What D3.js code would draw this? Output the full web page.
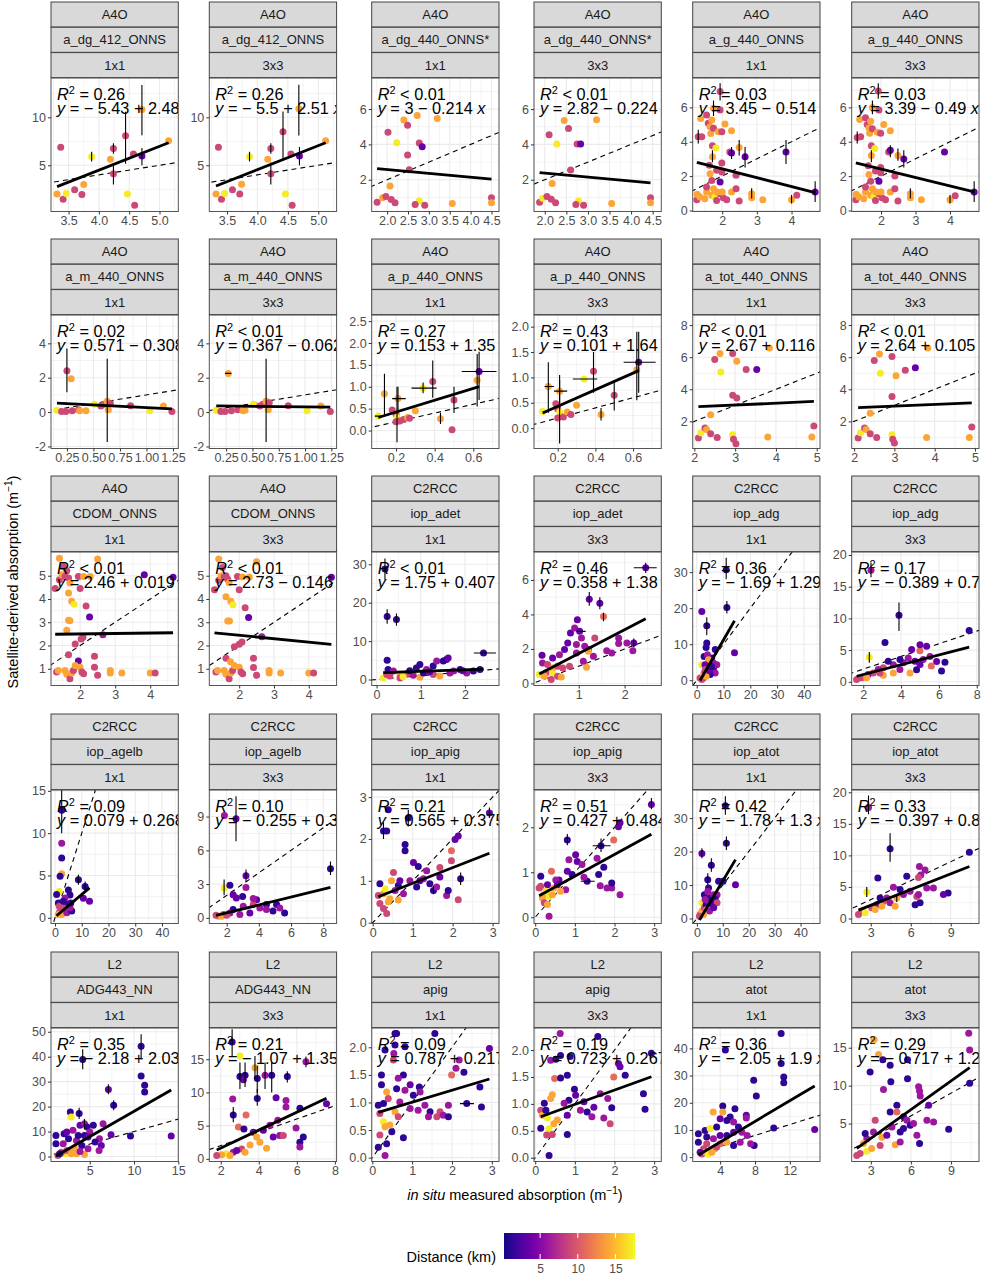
<!DOCTYPE html>
<html>
<head>
<meta charset="utf-8">
<script src="https://cdn.jsdelivr.net/npm/d3@7"></script>
<style>
  body { margin: 0; background: #fff; }
  text { font-family: "Liberation Sans", Arial, Helvetica, sans-serif; }
</style>
</head>
<body>
<script>
// ---- facet labels ----
const sensors = ["A4O","A4O","A4O","A4O","A4O","A4O",
                 "A4O","A4O","A4O","A4O","A4O","A4O",
                 "A4O","A4O","C2RCC","C2RCC","C2RCC","C2RCC",
                 "C2RCC","C2RCC","C2RCC","C2RCC","C2RCC","C2RCC",
                 "L2","L2","L2","L2","L2","L2"];
const products = ["a_dg_412_ONNS","a_dg_412_ONNS","a_dg_440_ONNS*","a_dg_440_ONNS*","a_g_440_ONNS","a_g_440_ONNS",
                  "a_m_440_ONNS","a_m_440_ONNS","a_p_440_ONNS","a_p_440_ONNS","a_tot_440_ONNS","a_tot_440_ONNS",
                  "CDOM_ONNS","CDOM_ONNS","iop_adet","iop_adet","iop_adg","iop_adg",
                  "iop_agelb","iop_agelb","iop_apig","iop_apig","iop_atot","iop_atot",
                  "ADG443_NN","ADG443_NN","apig","apig","atot","atot"];
const windows = ["1x1","3x3"];

// ---- fit statistics ----
const r2Labels = ["= 0.26","= 0.26","< 0.01","< 0.01","= 0.03","= 0.03",
                  "= 0.02","< 0.01","= 0.27","= 0.43","< 0.01","< 0.01",
                  "< 0.01","< 0.01","< 0.01","= 0.46","= 0.36","= 0.17",
                  "= 0.09","= 0.10","= 0.21","= 0.51","= 0.42","= 0.33",
                  "= 0.35","= 0.21","= 0.09","= 0.19","= 0.36","= 0.29"];
const eqLabels = ["− 5.43 + 2.48","− 5.5 + 2.51","3 − 0.214","2.82 − 0.224","3.45 − 0.514","3.39 − 0.49",
                  "0.571 − 0.308","0.367 − 0.062","0.153 + 1.35","0.101 + 1.64","2.67 + 0.116","2.64 + 0.105",
                  "2.46 + 0.019","2.73 − 0.146","1.75 + 0.407","0.358 + 1.38","− 1.69 + 1.29","− 0.389 + 0.77",
                  "0.079 + 0.268","− 0.255 + 0.35","0.565 + 0.375","0.427 + 0.484","− 1.78 + 1.3","− 0.397 + 0.83",
                  "− 2.18 + 2.03","− 1.07 + 1.35","0.787 + 0.217","0.723 + 0.267","− 2.05 + 1.9","− 0.717 + 1.26"];
const intercepts = [-5.43,-5.5,3,2.82,3.45,3.39, 0.571,0.367,0.153,0.101,2.67,2.64,
                    2.46,2.73,1.75,0.358,-1.69,-0.389, 0.079,-0.255,0.565,0.427,-1.78,-0.397,
                    -2.18,-1.07,0.787,0.723,-2.05,-0.717];
const slopes = [2.48,2.51,-0.214,-0.224,-0.514,-0.49, -0.308,-0.062,1.35,1.64,0.116,0.105,
                0.019,-0.146,0.407,1.38,1.29,0.77, 0.268,0.35,0.375,0.484,1.3,0.83,
                2.03,1.35,0.217,0.267,1.9,1.26];

// ---- axis ranges and tick labels ----
const xDomains = [[3.21,5.31],[3.21,5.30],[1.63,4.68],[1.75,4.70],[1.15,4.82],[1.15,4.84],
                  [0.10,1.30],[0.09,1.30],[0.074,0.733],[0.074,0.75],[1.96,5.08],[1.94,5.10],
                  [1.17,4.80],[1.14,4.80],[-0.11,2.77],[0.025,2.80],[-1.5,46],[1.39,8.12],
                  [-1.5,46.1],[0.92,8.83],[-0.025,3.16],[-0.03,3.18],[-1.6,47.5],[1.57,11.12],
                  [0.62,15.0],[1.4,8.09],[-0.015,3.18],[-0.03,3.18],[0.85,15.46],[1.57,11.1]];
const yDomains = [[0.18,14.1],[0.18,14.1],[0.2,7.76],[0.2,7.76],[-0.06,7.71],[-0.06,7.71],
                  [-2.12,5.65],[-2.12,5.65],[-0.41,2.64],[-0.40,2.23],[0.31,8.63],[0.31,8.63],
                  [0.28,6.02],[0.28,6.02],[-1.55,33.2],[-0.12,7.62],[-1.47,35.6],[-0.58,20.47],
                  [-0.67,15.1],[-0.5,11.36],[-0.02,3.17],[-0.14,2.83],[-1.5,38.4],[-0.79,20.36],
                  [-2,51.5],[-0.4,19.7],[-0.07,2.35],[-0.07,2.41],[-1.6,47.5],[0.0,17.6]];
const xTicks = [["3.5","4.0","4.5","5.0"],["3.5","4.0","4.5","5.0"],
                ["2.0","2.5","3.0","3.5","4.0","4.5"],["2.0","2.5","3.0","3.5","4.0","4.5"],
                ["2","3","4"],["2","3","4"],
                ["0.25","0.50","0.75","1.00","1.25"],["0.25","0.50","0.75","1.00","1.25"],
                ["0.2","0.4","0.6"],["0.2","0.4","0.6"],["2","3","4","5"],["2","3","4","5"],
                ["2","3","4"],["2","3","4"],["0","1","2"],["1","2"],
                ["0","10","20","30","40"],["2","4","6","8"],
                ["0","10","20","30","40"],["2","4","6","8"],["0","1","2","3"],["0","1","2","3"],
                ["0","10","20","30","40"],["3","6","9"],
                ["5","10","15"],["2","4","6","8"],["0","1","2","3"],["0","1","2","3"],
                ["4","8","12"],["3","6","9"]];
const yTicks = [["5","10"],["5","10"],["2","4","6"],["2","4","6"],["0","2","4","6"],["0","2","4","6"],
                ["-2","0","2","4"],["-2","0","2","4"],["0.0","0.5","1.0","1.5","2.0","2.5"],["0.0","0.5","1.0","1.5","2.0"],
                ["2","4","6","8"],["2","4","6","8"],
                ["1","2","3","4","5"],["1","2","3","4","5"],["0","10","20","30"],["0","2","4","6"],
                ["0","10","20","30"],["0","5","10","15","20"],
                ["0","5","10","15"],["0","3","6","9"],["0","1","2","3"],["0","1","2"],
                ["0","10","20","30"],["0","5","10","15","20"],
                ["0","10","20","30","40","50"],["0","5","10","15"],["0.0","0.5","1.0","1.5","2.0"],
                ["0.0","0.5","1.0","1.5","2.0"],["0","10","20","30","40"],["5","10","15"]];

// ---- colour bar range (km) ----
const distanceExtent = [0.2, 17.6];
const distanceTicks = [5, 10, 15];

// ---- observations: [in situ, satellite, distance km, ymin, ymax, xmin, xmax] ----
const p01 = [[3.31,2.0,14],[3.41,1.45,9],[3.46,2.05,17],[3.37,6.87,9],[3.60,2.46,9],[3.72,1.96,9],
  [3.75,2.99,14],[3.88,5.89,17,5.4,6.4],[4.19,5.64,14],[4.24,4.11,9,3.0,5.1],[4.24,6.76,9,6.2,7.3],
  [4.44,8.09,9,5.16,10.57],[4.71,10.82,14,8.12,13.37],[4.71,5.96,3.5,5.0,6.8],[4.57,6.17,9],
  [4.59,0.82,9],[4.47,2.0,17],[5.15,7.57,14]];
const p02 = [[3.32,2.0,14],[3.41,1.45,9],[3.46,2.05,17],[3.36,6.87,9],[3.59,2.46,9],[3.71,2.0,9],
  [3.74,3.03,14],[3.87,5.89,17,5.4,6.4],[4.17,5.64,14],[4.22,4.11,9,3.0,5.3],[4.22,6.76,9,6.2,7.3],
  [4.42,8.5,9,5.5,10.6],[4.68,10.9,14,8.1,13.4],[4.69,5.96,3.5,5.0,6.9],[4.55,6.17,9],
  [4.57,0.82,9],[4.46,2.0,17],[5.12,7.57,14]];
const p03 = [[1.76,0.73,9],[1.89,0.98,14],[1.97,1.05,9],[2.10,0.88,9],[2.19,0.7,9],[2.07,1.64,14],
  [2.02,4.69,9],[2.23,4.1,17],[2.40,5.38,14],[2.49,5.08,9],[2.49,3.4,9],[2.53,2.57,9],[2.72,5.64,14],
  [2.77,4.08,9],[2.84,3.86,3.5],[3.2,5.47,14],[2.77,0.8,17],[2.67,0.6,9],[2.9,0.55,9],[3.56,0.65,14],
  [4.5,0.98,9],[4.5,0.7,14]];
const p04 = [[1.88,0.73,9],[1.95,0.95,17],[2.05,1.05,9],[2.15,0.9,9],[2.25,0.7,9],[2.17,1.78,14],
  [2.1,4.55,9],[2.28,4.02,17],[2.45,5.35,14],[2.55,4.9,9],[2.6,2.55,9],[2.75,4.02,9],[2.83,4.02,3.5],
  [3.2,5.4,14],[2.78,0.8,17],[2.72,0.6,9],[2.9,0.55,9],[3.55,0.65,14],[4.45,0.98,9],[4.45,0.7,14]];
const p05 = [[1.27,0.62,9],[1.28,0.94,14],[1.31,4.29,9,3.9,4.7],[1.41,4.29,9],[1.38,5.36,14],
  [1.55,5.56,9],[1.6,5.07,9],[1.65,4.87,14],[1.7,5.26,14],[1.67,4.48,14],[1.75,5.95,14,5.5,6.4],
  [1.75,4.78,9],[1.94,5.85,9],[1.94,6.92,9,6.4,7.4],[1.89,4.58,14],[1.99,4.58,9],[2.08,5.03,14],
  [2.27,4.64,14],[1.72,3.76,9],[1.82,3.63,17],[1.72,3.12,14,2.8,3.5],[1.65,2.14,14],[1.63,2.63,9],
  [1.7,1.75,9],[1.94,1.66,3.5],[1.99,2.77,9],[1.99,2.24,9],[1.84,2.34,9],[2.22,3.41,9],
  [2.27,3.35,3.5,3.0,3.7],[2.49,3.66,14,3.2,4.1],[2.66,3.12,3.5,2.5,3.7],[2.4,2.05,9],[2.27,1.07,14],
  [2.4,1.27,9],[2.49,0.55,9],[2.85,0.97,14,0.7,1.3],[2.85,0.74,14],[3.17,0.62,14],
  [3.84,3.41,3.5,2.7,4.1],[4.0,0.62,14,0.4,0.9],[4.15,0.88,9],[4.68,1.07,3.5,0.5,1.7],
  [1.36,0.78,14],[1.5,0.68,14],[1.55,1.07,14],[1.7,0.88,14],[1.79,0.78,17],[1.84,0.58,9],
  [1.94,0.97,9],[2.03,0.74,9],[2.13,0.62,9],[1.75,1.27,14],[1.55,1.36,9],[1.86,1.07,14],[2.0,1.07,14]];
const p06 = [[1.27,0.62,9],[1.28,0.94,14],[1.31,4.25,9,3.9,4.6],[1.41,4.29,9],[1.38,5.3,14],
  [1.55,5.4,9],[1.6,5.0,9],[1.65,4.8,14],[1.7,5.2,14],[1.67,4.5,14],[1.75,6.0,14,5.6,6.4],
  [1.75,4.75,9],[1.94,5.85,9],[1.92,6.95,9,6.5,7.4],[1.89,4.55,14],[1.99,4.5,9],[2.08,5.0,14],
  [2.27,4.64,14],[1.72,3.76,9],[1.82,3.6,17],[1.72,3.2,14,2.8,3.5],[1.65,2.1,14],[1.63,2.6,9],
  [1.7,1.7,9],[1.94,1.7,3.5],[1.99,2.5,9],[1.99,2.2,9],[1.84,2.3,9],[2.22,3.41,9],
  [2.27,3.5,3.5,3.1,3.8],[2.49,3.2,14,2.9,3.6],[2.66,3.0,3.5,2.5,3.5],[2.4,2.0,9],[2.27,1.07,14],
  [2.4,1.27,9],[2.49,0.55,9],[2.85,0.97,14,0.7,1.3],[2.85,0.74,14],[3.17,0.62,14],
  [3.84,3.4,3.5],[4.0,0.62,14,0.4,0.9],[4.15,0.85,9],[4.7,1.07,3.5,0.5,1.7],
  [1.36,0.78,14],[1.5,0.68,14],[1.55,1.07,14],[1.7,0.88,14],[1.79,0.78,17],[1.84,0.58,9],
  [1.94,0.97,9],[2.03,0.74,9],[2.13,0.62,9],[1.75,1.27,14],[1.55,1.36,9],[1.86,1.07,14],[2.0,1.07,14]];
const p07 = [[0.156,0.1,17],[0.2,0.04,9],[0.24,0.04,9],[0.25,2.4,9,1.15,3.7],[0.29,1.94,14],
  [0.3,0.07,9],[0.36,0.13,9],[0.37,0.07,14],[0.43,0.07,14],[0.51,0.45,17],[0.6,0.45,9],
  [0.63,0.63,14,-1.74,3.1],[0.64,0.13,14],[0.66,0.5,9],[0.57,0.35,9],[0.85,0.37,9],[1.03,0.07,17],
  [1.16,0.35,14],[1.24,0.04,9]];
const p08 = [[0.156,0.1,17],[0.2,0.04,9],[0.24,0.04,9],[0.27,2.25,14,null,null,0.24,0.3],[0.3,0.07,9],
  [0.36,0.13,9],[0.41,0.07,14],[0.43,0.1,14],[0.51,0.45,17],[0.6,0.45,9],[0.63,0.63,14,-1.74,3.1],
  [0.65,0.13,14],[0.66,0.55,9],[0.57,0.35,9],[0.84,0.37,9],[1.02,0.07,17],[1.15,0.35,14],[1.24,0.04,9]];
const p09 = [[0.108,0.33,17,null,null,0.09,0.13],[0.14,0.84,14,0.33,1.3],[0.18,0.47,9],[0.2,0.37,9],
  [0.205,0.3,17,-0.27,1.0],[0.2,0.2,9],[0.22,0.22,9],[0.21,0.73,14,0.45,1.0,0.18,0.25],[0.24,0.25,9],
  [0.26,0.3,14],[0.27,0.28,9],[0.3,0.45,14],[0.34,0.97,17,0.85,1.1,0.28,0.41],[0.39,1.12,9,0.75,1.6],
  [0.43,0.27,14,0.15,0.4],[0.49,0.02,9],[0.5,0.7,9,0.4,1.0],[0.62,1.15,14,0.55,1.75],
  [0.63,1.35,3.5,0.7,1.8,0.54,0.72]];
const p10 = [[0.12,0.33,17],[0.15,0.82,14,0.3,1.3,0.13,0.18],[0.19,0.48,9],[0.2,0.38,9],
  [0.21,0.32,17,-0.3,0.95],[0.2,0.2,9],[0.23,0.22,9],[0.21,0.73,14,0.45,1.05,0.18,0.25],[0.25,0.32,14],
  [0.27,0.27,9],[0.3,0.45,14],[0.34,0.97,17,null,null,0.28,0.41],[0.39,1.12,9,0.7,1.5],
  [0.43,0.27,14,0.15,0.4],[0.5,0.65,9,0.35,0.95],[0.62,1.15,14,0.55,1.9],[0.63,1.3,3.5,0.7,1.9,0.55,0.72]];
const p11 = [[2.1,0.96,9],[2.16,1.29,17],[2.26,1.58,9],[2.3,1.5,14],[2.4,1.23,9],[2.4,2.42,14],
  [2.56,1.0,9],[2.5,5.85,9],[2.63,6.23,14],[2.65,5.08,17],[2.94,6.23,9],[2.94,3.63,9],[3.04,3.46,9],
  [3.04,5.75,14],[2.94,1.17,17],[2.96,0.88,9],[3.02,0.6,9],[3.27,5.23,9],[3.53,5.23,3.5],[3.84,6.58,14],
  [3.8,1.02,14],[4.88,1.02,14],[4.93,1.71,9]];
const p12 = [[2.1,0.96,9],[2.16,1.29,17],[2.26,1.58,9],[2.3,1.5,14],[2.4,1.23,9],[2.4,2.5,14],
  [2.56,1.0,9],[2.5,5.8,9],[2.63,6.2,14],[2.65,5.0,17],[2.94,6.05,9],[2.94,3.55,9],[3.04,4.85,14],
  [2.94,1.17,17],[2.96,0.88,9],[3.0,0.65,9],[3.27,5.18,9],[3.52,5.35,3.5],[3.83,6.58,14],
  [3.8,1.0,14],[4.86,1.0,14],[4.92,1.65,9]];
const p13 = [[1.41,5.75,14],[1.29,4.45,9],[1.41,4.83,9],[1.52,5.4,9],[1.62,5.21,9],[1.67,4.9,9],
  [1.48,5.04,14],[1.57,4.97,9],[1.71,4.69,14],[1.95,4.97,9],[2.0,4.45,9],[2.1,4.97,14],[2.29,4.97,14],
  [2.5,5.72,14],[1.67,4.26,14],[1.76,3.9,14],[1.83,3.77,17],[2.17,3.7,9],[2.27,3.23,3.5],[1.67,3.09,14],
  [1.71,3.06,14],[1.62,2.66,14],[1.67,1.6,9],[1.86,2.06,9],[2.03,2.28,9],[2.08,2.35,9],[2.65,2.46,6],
  [2.41,1.54,9],[2.41,1.07,9],[2.5,0.72,9],[1.95,1.33,3.5],[1.33,0.86,9],[1.38,0.93,14],[1.57,0.93,14],
  [1.62,0.76,14],[1.71,0.57,9],[1.76,0.82,14],[1.81,0.93,9],[1.86,1.14,14],[2.0,1.07,14],[2.05,0.86,9],
  [2.1,0.79,9],[2.86,0.93,14],[2.86,0.82,14],[3.19,0.82,14],[4.0,0.82,14],[4.14,0.82,9],
  [3.83,5.04,3.5],[4.65,4.93,3.5]];
const p14 = [[1.41,5.72,14],[1.29,4.4,9],[1.41,4.8,9],[1.52,5.35,9],[1.62,5.0,9],[1.67,4.85,9],
  [1.48,5.0,14],[1.57,4.95,9],[1.71,4.7,14],[1.95,4.97,9],[2.0,4.4,9],[2.1,4.95,14],[2.29,4.95,14],
  [2.5,5.6,14],[1.62,4.1,14],[1.76,3.9,14],[1.82,3.75,17],[2.17,3.62,9],[2.27,3.2,3.5],[1.67,3.05,14],
  [1.72,3.05,14],[1.62,1.45,9],[1.86,1.95,9],[2.0,2.05,9],[2.08,2.15,9],[2.65,2.38,6],[2.41,1.45,9],
  [2.41,1.05,9],[2.5,0.72,9],[1.75,1.3,14],[1.33,0.86,9],[1.38,0.93,14],[1.57,0.93,14],[1.62,0.76,14],
  [1.71,0.57,9],[1.76,0.82,14],[1.81,0.93,9],[1.86,1.14,14],[2.0,1.07,14],[2.05,0.86,9],[2.1,0.79,9],
  [2.86,0.93,14],[2.86,0.82,14],[3.19,0.82,14],[4.0,0.82,14],[4.14,0.82,9],[4.65,4.93,3.5]];
const p15 = [[0.19,28.8,1.2,26,31.5],[0.24,16.4,1.2,14.5,18.3],[0.45,15.6,1.2,14,17.2],[0.24,5.0,1.2],
  [0.26,2.6,1.2],[2.42,6.9,1.2,null,null,2.2,2.7],[0.15,0.4,17],[0.3,0.9,9],[0.53,1.3,14],[0.68,1.5,9],
  [0.83,1.1,6],[0.9,3.0,1.2],[0.98,3.9,1.2],[1.13,2.6,6],[1.28,3.5,1.2],[1.36,4.8,6],[1.51,4.8,1.2],
  [1.58,5.2,1.2],[1.62,5.6,3.5],[1.74,2.2,6],[1.89,2.6,1.2],[2.04,1.7,6],[2.19,2.2,1.2],[2.34,2.6,1.2],
  [0.53,0.4,9],[0.98,0.6,14],[1.28,1.3,9],[1.66,1.7,6],[0.38,2.2,6],[0.75,2.3,1.2],[1.06,1.7,1.2],
  [1.43,0.9,14],[0.23,1.3,9],[0.6,0.7,17],[1.2,2.0,3.5],[1.95,2.3,3.5]];
const p16 = [[2.46,6.71,3.5,6.4,7.0,2.2,2.7],[1.23,4.88,3.5,4.5,5.3],[1.46,4.65,3.5,4.3,5.0],
  [1.54,3.88,11,3.6,4.1],[0.97,3.69,3.5],[0.82,2.92,3.5],[0.91,3.21,6],[1.02,3.02,3.5,null,null,0.95,1.15],
  [1.06,2.63,6],[1.35,2.63,9],[1.32,1.58,6],[1.21,1.96,3.5],[1.13,2.15,6],[0.95,2.25,6],[0.76,2.35,3.5],
  [0.69,1.96,3.5],[0.58,1.67,6],[0.43,1.48,3.5],[0.2,1.63,3.5],[0.21,1.19,6],[0.32,1.1,9],[0.43,0.9,14],
  [0.54,1.0,9],[0.65,0.9,9],[0.8,1.0,9],[1.17,0.94,14],[1.21,1.87,14],[0.14,0.52,17],[0.29,0.62,9],
  [0.43,0.56,17],[0.54,0.42,9],[0.62,0.37,14],[0.4,0.23,9],[0.25,0.42,14],[1.61,1.9,6],[1.87,2.31,6],
  [1.87,2.63,6],[2.05,2.35,6],[2.2,2.35,3.5,2.1,2.6],[2.18,1.9,6],[1.72,1.77,6],[1.1,1.29,6],[0.95,1.77,6]];
const p17 = [[11,30.7,1.2,28,34],[1.9,19.1,3.5],[3.75,15.1,1.2,12.5,17.5],[11.25,20.2,1.2,18.5,22],
  [14.1,7.6,3.5],[3.75,10.3,1.2],[3.5,9.1,1.2],[6.9,8.5,1.2],[1.9,4.3,17],[1.25,0.6,9],[2.5,1.6,14],
  [3.1,2.5,6],[3.75,3.4,1.2],[4.4,4.3,1.2],[5.0,5.3,6],[5.6,6.2,1.2],[6.25,3.4,1.2],[6.9,2.0,6],[5,1.6,1.2],
  [2.75,6.6,1.2],[4,7.1,6],[6.25,4.8,6],[2.5,0.6,9],[1.9,0.2,9],[3.5,1.1,14],[7.5,4.3,6],[4.4,5.7,14],
  [3.1,4.3,3.5],[3.3,3.0,9],[4.8,2.6,3.5],[5.5,3.8,1.2]];
const p18 = [[2.41,17.6,6,16.5,18.8],[3.89,10.5,1.2,8.0,12.5],[3.15,6.2,1.2],[7.6,8.1,1.2],
  [2.32,3.87,17,3.0,4.7],[4.56,5.08,3.5],[5.0,4.9,11],[5.35,5.6,3.5],[5.0,5.86,3.5],[5.88,3.2,3.5],
  [6.32,3.1,1.2],[6.14,1.7,1.2],[5.6,2.5,11],[4.47,1.4,14],[4.82,1.9,1.2],[4.12,3.0,6],[3.94,3.5,1.2],
  [4.38,3.77,6],[4.73,3.25,3.5],[5.17,3.5,6],[3.59,2.7,6],[3.32,3.25,1.2],[3.06,2.2,9],[2.79,1.94,6],
  [2.53,1.4,9],[2.26,1.15,6],[1.91,0.63,9],[1.65,0.37,9],[2.18,0.63,14],[3.06,1.05,14],[3.59,1.4,14],
  [2.88,1.4,9],[3.94,1.94,6],[5.0,2.72,3.5],[5.53,4.0,6]];
const p19 = [[2.5,12.7,1.2,10,15.5],[2.5,8.8,6],[2.5,7.06,1.2],[2.5,5.2,14],[1.9,4.9,1.2],[1.6,3.1,17],
  [8.75,4.5,1.2,3.9,5.1],[11.25,3.7,1.2,3.0,4.3],[12.9,1.96,3.5],[10.6,2.3,3.5],[5,3.3,1.2],[5.6,2.7,1.2],
  [3.75,2.35,6],[4.4,1.57,1.2],[3.1,1.2,9],[1.9,0.8,9],[1.25,0.4,14],[2.5,0.4,14],[1.25,1.76,1.2],
  [4.4,0.6,6],[6.25,0.8,1.2],[5.6,1.2,6],[1.6,1.37,9],[3.1,1.96,1.2],[5.9,1.76,1.2],[0.6,2.75,1.2]];
const p20 = [[1.86,9.1,6],[2.58,8.8,3.5,6.8,10.8],[8.45,4.37,1.2,3.8,5.0],[1.84,2.65,17,2.0,3.4],
  [2.2,2.9,1.2],[3.2,3.75,3.5,3.2,4.3],[3.2,2.7,6],[2.4,2.06,3.5],[2.6,1.77,3.5],[2.99,1.9,1.2],
  [3.86,1.6,3.5],[4.47,1.18,1.2],[5.1,1.18,1.2],[5.6,0.44,1.2],[5.3,0.88,6],[4.06,0.88,6],[3.65,1.18,9],
  [3.03,1.03,6],[2.4,0.74,1.2],[2.2,0.44,6],[1.8,0.3,9],[1.48,0.15,14],[1.34,0.24,9],[1.69,0.15,14],
  [2.0,0.24,9],[2.82,0.3,6],[3.44,0.44,3.5],[4.47,0.74,6],[4.88,0.6,1.2],[3.65,1.71,6]];
const p21 = [[0.27,2.19,1.2,2.0,2.4],[0.35,2.19,1.2],[0.39,2.7,1.2],[0.89,2.5,1.2,2.3,2.7],[0.81,1.87,1.2],
  [0.81,1.72,1.2],[2.92,2.62,3.5,2.5,2.75],[2.06,1.99,3.5],[2.14,2.07,3.5],[1.97,1.72,11],[1.97,1.48,9],
  [2.2,1.05,1.2,0.9,1.2],[2.14,0.55,9],[1.02,1.44,3.5],[1.14,1.34,1.2],[1.35,1.24,6],[1.27,1.05,6],
  [1.43,0.93,1.2],[1.52,0.77,1.2,0.68,0.88],[1.68,1.09,3.5],[1.68,1.32,9],[1.85,0.65,6],[1.89,0.77,1.2],
  [1.6,0.85,6],[1.1,0.85,1.2],[0.93,1.0,6],[0.77,0.69,6],[0.64,0.89,1.2],[0.47,1.0,14],[0.52,1.2,9],
  [0.18,0.93,1.2],[0.27,0.69,14],[0.14,0.65,9],[0.18,0.46,9],[0.27,0.34,9],[0.35,0.22,9],[0.39,0.5,14],
  [0.56,0.77,6],[0.64,0.54,14],[0.31,0.81,17],[0.43,0.57,14],[0.68,1.0,3.5],[1.18,1.0,3.5]];
const p22 = [[2.93,2.51,3.5,2.4,2.65],[2.1,2.01,3.5],[2.14,2.1,3.5],[1.98,1.72,11],[2.14,0.5,6],[1.93,0.65,6],
  [1.93,0.76,1.2],[1.81,0.65,6],[1.66,1.59,1.2,1.45,1.75,1.45,1.9],[1.64,0.7,6],[1.73,1.11,1.2],[1.6,0.95,1.2],
  [1.56,1.31,6],[1.31,0.8,1.2,null,null,1.15,1.5],[1.23,0.89,6],[1.02,1.39,3.5],[1.06,1.24,3.5],
  [1.18,1.17,6],[0.81,1.72,1.2,1.6,1.85],[0.85,1.28,6],[0.81,1.02,3.5],[0.93,0.95,1.2],[0.77,0.61,6],
  [0.6,0.83,3.5],[0.52,0.83,6],[0.41,1.02,11],[0.31,0.72,3.5],[0.14,0.91,1.2],[0.14,0.69,9],[0.21,0.5,14],
  [0.27,0.58,17],[0.35,0.46,17],[0.18,0.43,14],[0.23,0.32,9],[0.31,0.28,14],[0.35,0.02,6],[0.43,0.5,14],
  [0.47,0.65,14],[0.64,0.58,14],[0.56,0.72,3.5],[0.1,0.65,9]];
const p23 = [[11.0,33.7,1.2,31,36.5],[1.95,19.4,3.5,18,21],[5.6,15.9,1.2,14,18],[11.4,22.5,1.2,20.5,24.5],
  [14.9,10.1,3.5],[10.1,11.1,1.2],[8.4,11.1,1.2],[4.2,11.6,1.2,10,13.5],[4.5,9.1,1.2],[1.95,4.7,17],
  [1.3,1.2,9],[1.95,2.2,14],[2.9,3.2,9],[3.6,4.2,1.2],[4.5,5.2,6],[5.2,6.2,1.2],[6.5,7.1,6],[7.8,7.1,6],
  [7.1,5.7,1.2],[5.8,4.2,1.2],[3.9,2.7,14],[4.9,2.2,6],[7.8,4.7,9],[2.9,7.1,1.2],[3.2,5.7,6],[6.5,3.2,3.5],
  [2.6,1.2,14],[4.2,8.1,6],[1.0,0.7,9]];
const p24 = [[2.83,17.6,6,16.5,19.5],[4.45,11.05,1.2,9,13.5],[10.4,10.5,1.2],[2.7,4.2,17,3.4,5.0],
  [3.53,6.4,1.2],[5.7,6.7,1.2],[6.65,8.26,6],[7.07,7.7,6],[6.75,6.9,6],[6.58,6.5,9],[8.8,4.05,1.2],
  [8.45,3.8,3.5],[6.33,2.2,1.2],[6.7,2.5,1.2],[6.45,3.5,9],[5.2,4.6,1.2],[4.7,4.95,6],[5.45,3.8,6],
  [5.95,4.3,6],[7.2,4.85,6],[7.7,4.85,6],[4.2,3.26,6],[4.95,3.26,14,2.6,3.9],[3.95,2.7,9],[3.45,2.2,3.5],
  [3.07,1.7,9],[2.33,1.16,9],[2.08,0.63,9],[2.58,0.9,17],[3.33,1.42,14],[3.83,1.95,14],[4.45,2.5,6],
  [4.83,1.95,14],[3.7,3.26,1.2],[6.58,3.8,6]];
const p25 = [[10.8,44.2,1.2,39,49],[4.2,38.9,1.2,35,43],[10.8,32.3,1.2],[11.2,28.6,1.2],[11.2,25.9,1.2],
  [7.1,26.9,3.5,25,29],[7.7,20.5,1.2,18.5,22.5],[9.6,8.2,1.2],[14.2,8.2,3.5],[7.4,8.7,3.5],[2.8,17.8,1.2],
  [3.8,17.2,1.2,15,19.5],[2.9,15.8,17],[1.18,8.4,1.2],[1.18,5.1,1.2],[2.1,9.1,1.2],[2.6,7.1,1.2],
  [3.1,10.5,6],[3.9,12.5,3.5],[4.4,13.1,6,11,15],[4.7,11.8,1.2],[5.4,12.5,1.2],[5.0,9.8,6],[4.4,8.4,1.2],
  [6.1,7.1,6],[6.3,4.4,3.5],[6.05,2.4,6],[5.6,5.8,1.2],[6.5,13.1,6],[3.5,6.4,6],[4.1,4.4,1.2],
  [3.3,3.1,14],[2.75,1.7,14],[2.2,1.1,17],[1.8,1.7,9],[1.4,0.4,9],[1.6,1.1,1.2],[2.4,2.4,9],[2.9,1.1,14],
  [3.5,1.1,14],[4.4,0.8,14],[3.9,2.0,6],[4.8,3.1,6],[2.0,5.1,6],[2.4,9.8,3.5],[3.7,8.4,1.2],[4.8,7.8,3.5]];
const p26 = [[3.01,15.5,17],[2.6,17.6,1.2,15.5,19.5],[3.8,13.7,14,12,15.5],[3.01,12.4,1.2,10.5,14.5],
  [3.28,12.6,1.2,10.8,14.5],[3.19,11.9,3.5],[3.92,12.1,1.2,10,14],[3.92,9.1,1.2,8,10.5],
  [4.33,12.6,6,10.5,14.5],[4.68,12.6,1.2,10,14.5],[5.5,12.4,1.2,11.5,13.2],[4.91,9.2,3.5],[5.43,8.8,6],
  [5.43,7.8,6],[6.48,14.6,6,13.8,15.4],[7.56,8.3,3.5],[2.63,9.0,6],[2.66,6.6,1.2,5.5,7.8],[2.93,4.8,11],
  [3.33,6.6,11],[3.22,4.5,1.2],[3.71,4.0,3.5],[4.24,4.3,3.5],[4.59,5.05,6],[5.0,5.8,6],[5.96,4.65,6],
  [6.16,7.6,1.2],[6.34,3.3,1.2],[6.16,2.5,1.2],[6.16,1.77,6],[5.1,3.5,6],[4.76,3.3,3.5],[4.41,1.6,14],
  [4.06,2.5,14],[3.89,3.3,14],[3.54,2.1,14],[3.1,1.5,9],[2.66,1.0,6],[2.31,0.75,17],[2.05,0.6,14],
  [1.79,0.5,9],[2.49,0.5,14],[2.84,1.26,3.5],[3.28,1.0,14],[5.29,3.5,9]];
const p27 = [[0.57,2.25,1.2],[0.61,2.25,1.2],[1.57,2.25,1.2],[0.32,1.95,1.2],[0.57,2.04,1.2],[0.82,2.01,1.2],
  [0.54,1.89,6],[2.94,1.98,3.5],[2.18,1.77,6],[2.1,1.62,6],[2.3,1.55,1.2],[1.99,1.5,11],[0.23,1.5,1.2],
  [0.53,1.77,9],[0.23,1.32,1.2],[0.78,1.5,1.2],[0.65,1.44,6],[0.95,1.32,3.5],[1.18,1.28,1.2],[1.2,1.19,6],
  [1.03,1.13,1.2],[0.82,1.22,6],[0.61,1.25,1.2],[0.36,1.19,14],[0.4,1.07,9],[0.28,0.98,1.2],[0.15,0.95,1.2],
  [0.19,0.8,9],[0.28,0.65,17],[0.32,0.56,14],[0.44,0.59,14],[0.57,0.83,14],[0.65,0.74,9],[0.69,1.01,6],
  [0.95,0.89,6],[1.15,0.86,6],[1.32,0.95,6],[1.45,0.83,1.2],[1.7,0.83,9],[1.91,0.95,6],
  [2.37,0.98,1.2,null,null,2.2,2.55],[2.74,0.92,1.2],[2.7,1.28,1.2],[1.62,0.74,9],[1.41,0.74,6],
  [1.78,0.77,6],[1.91,0.74,1.2],[0.49,0.47,1.2],[0.78,0.36,1.2],[0.15,0.19,1.2],[0.36,0.25,1.2],
  [0.32,0.04,6],[0.19,0.41,9]];
const p28 = [[0.63,2.31,6],[1.58,2.25,1.2],[0.39,1.81,6],[0.52,1.83,1.2],[0.64,1.9,1.2],[0.88,1.88,1.2],
  [2.93,1.94,1.2],[2.1,1.75,3.5],[2.14,1.69,3.5],[2.27,1.53,1.2],[1.98,1.5,11],[0.49,1.47,11],[0.64,1.48,1.2],
  [0.81,1.53,1.2],[2.73,1.19,1.2],[2.77,0.9,1.2],[1.64,1.19,6],[1.83,1.1,6],[1.93,0.93,1.2],[0.99,1.27,1.2],
  [1.02,1.16,3.5],[0.85,1.07,1.2],[0.73,1.01,6],[0.43,1.17,14],[0.39,1.1,14],[0.23,1.01,1.2],[0.14,0.88,9],
  [0.18,0.79,14],[0.27,0.88,1.2],[0.31,0.74,17],[0.35,0.54,17],[0.29,0.42,9],[0.43,0.43,9],[0.47,0.63,14],
  [0.56,0.7,14],[0.81,0.43,1.2],[0.35,0.04,1.2],[0.14,0.55,1.2],[1.14,0.88,6],[1.31,0.85,1.2],[1.43,0.76,6],
  [1.73,0.74,6],[1.89,0.63,9],[1.23,1.04,3.5],[1.48,0.94,3.5],[0.81,0.79,3.5]];
const p29 = [[11.0,45.5,1.2],[4.6,39.4,1.2],[11.0,34.4,1.2],[11.3,29.5,1.2],[11.3,27.4,1.2],[7.85,28.3,1.2],
  [8.15,22.5,1.2],[10.15,10.7,1.2],[14.85,10.2,3.5],[7.9,4.3,1.2],[7.0,15.4,3.5],[7.0,14.4,6],[4.3,18.8,1.2],
  [5.7,17.8,1.2],[3.2,16.6,14],[4.3,16.6,14],[1.5,8.6,1.2],[1.5,5.5,1.2],[2.46,7.4,1.2],[2.27,9.8,1.2],
  [2.85,10.5,17],[3.6,11.1,1.2],[4.0,14.1,3.5],[4.77,13.5,1.2],[5.15,14.8,1.2],[5.54,12.9,6],[6.1,11.1,1.2],
  [6.5,9.2,6],[7.1,8.0,6],[5.54,9.2,3.5],[4.77,8.0,1.2],[4.0,8.0,3.5],[3.23,6.8,6],[2.46,4.9,9],[2.1,3.1,9],
  [1.9,1.2,9],[2.27,1.8,14],[2.65,1.2,17],[3.04,1.8,14],[3.4,3.1,14],[4.0,4.9,11],[4.77,5.5,14],
  [5.54,4.3,1.2],[6.3,5.5,6],[7.5,4.9,6],[1.7,1.8,3.5],[3.6,3.7,9]];
const p30 = [[3.25,16.1,14],[10.33,16.9,6],[10.4,14.7,6],[10.4,10.3,1.2],[3.58,14.1,14],[4.45,12.7,1.2],
  [3.9,13.4,1.2],[2.95,11.8,1.2],[5.75,13.4,1.2],[5.75,10.9,1.2],[4.5,10.5,1.2],[3.95,9.5,6],[6.58,9.85,6],
  [6.65,9.3,6],[6.7,8.65,6],[7.33,7.4,3.5],[4.95,7.4,1.2],[4.45,6.54,1.2],[4.95,6.54,11],[5.45,5.9,1.2],
  [7.2,5.44,6],[7.7,5.2,6],[5.7,5.44,6],[5.95,4.78,1.2],[6.2,5.0,6],[6.45,3.46,6],[6.65,2.36,1.2],
  [8.83,4.25,1.2],[5.45,4.34,1.2],[4.83,2.2,14],[3.83,3.2,14],[3.33,5.44,9],[3.2,3.9,6],[2.7,3.0,6],
  [2.45,2.36,14],[2.7,1.34,17],[2.2,1.04,9],[1.95,0.8,9],[3.07,1.7,14],[3.7,2.1,9],[4.2,3.46,3.5],
  [5.2,2.58,6],[4.58,4.56,6],[2.58,3.68,1.2],[5.2,3.9,1.2]];

// ---- layout ----
const W = 982, H = 1278;
const colLefts = [51, 209.3, 371.7, 534, 692.7, 851.7];
const rowTops = [78, 315, 552, 790, 1028];
const pw = 127.3, ph = 133.5;

const panels = [p01,p02,p03,p04,p05,p06,p07,p08,p09,p10,p11,p12,p13,p14,p15,
                p16,p17,p18,p19,p20,p21,p22,p23,p24,p25,p26,p27,p28,p29,p30];

const colour = d3.scaleSequential(d3.interpolatePlasma).domain(distanceExtent);

const svg = d3.select("body").append("svg")
    .attr("width", W)
    .attr("height", H);
const defs = svg.append("defs");

function minorTicks(vals, dom) {
    // midpoints between major ticks, plus half steps outside
    let step = vals.length > 1 ? vals[1] - vals[0] : 1;
    let out = [];
    let m = vals[0] - step / 2;
    while (m > dom[0]) m -= step;
    while (m <= dom[1]) {
        if (m >= dom[0]) out.push(m);
        m += step;
    }
    return out;
}

panels.forEach((pts, i) => {
    let col = i % 6, row = Math.floor(i / 6);
    let left = colLefts[col], top = rowTops[row];
    let x = d3.scaleLinear().domain(xDomains[i]).range([0, pw]);
    let y = d3.scaleLinear().domain(yDomains[i]).range([ph, 0]);
    let xv = xTicks[i].map(Number), yv = yTicks[i].map(Number);

    let g = svg.append("g").attr("transform", "translate(" + left + "," + top + ")");

    defs.append("clipPath").attr("id", "clip" + i)
        .append("rect").attr("width", pw).attr("height", ph);

    g.append("rect").attr("width", pw).attr("height", ph).attr("fill", "#fff");

    // grid
    let grid = g.append("g");
    grid.selectAll(".mx").data(minorTicks(xv, xDomains[i])).enter().append("line")
        .attr("x1", d => x(d)).attr("x2", d => x(d)).attr("y1", 0).attr("y2", ph)
        .attr("stroke", "#ebebeb").attr("stroke-width", 0.6);
    grid.selectAll(".my").data(minorTicks(yv, yDomains[i])).enter().append("line")
        .attr("y1", d => y(d)).attr("y2", d => y(d)).attr("x1", 0).attr("x2", pw)
        .attr("stroke", "#ebebeb").attr("stroke-width", 0.6);
    grid.selectAll(".gx").data(xv).enter().append("line")
        .attr("x1", d => x(d)).attr("x2", d => x(d)).attr("y1", 0).attr("y2", ph)
        .attr("stroke", "#ebebeb").attr("stroke-width", 1.1);
    grid.selectAll(".gy").data(yv).enter().append("line")
        .attr("y1", d => y(d)).attr("y2", d => y(d)).attr("x1", 0).attr("x2", pw)
        .attr("stroke", "#ebebeb").attr("stroke-width", 1.1);

    let inner = g.append("g").attr("clip-path", "url(#clip" + i + ")");

    // 1:1 line
    let lo = Math.min(xDomains[i][0], yDomains[i][0]), hi = Math.max(xDomains[i][1], yDomains[i][1]);
    let line = d3.line().x(d => x(d[0])).y(d => y(d[1]));
    inner.append("path").datum([[lo, lo], [hi, hi]])
        .attr("d", line).attr("fill", "none")
        .attr("stroke", "#000").attr("stroke-width", 1.1).attr("stroke-dasharray", "5,4");

    // points
    inner.selectAll("circle").data(pts).enter().append("circle")
        .attr("cx", d => x(d[0])).attr("cy", d => y(d[1])).attr("r", 3.5)
        .attr("fill", d => colour(d[2]));

    // error bars
    inner.selectAll(".ev").data(pts.filter(d => d[3] != null)).enter().append("line")
        .attr("x1", d => x(d[0])).attr("x2", d => x(d[0]))
        .attr("y1", d => y(d[3])).attr("y2", d => y(d[4]))
        .attr("stroke", "#000").attr("stroke-width", 1.1);
    inner.selectAll(".eh").data(pts.filter(d => d[5] != null)).enter().append("line")
        .attr("x1", d => x(d[5])).attr("x2", d => x(d[6]))
        .attr("y1", d => y(d[1])).attr("y2", d => y(d[1]))
        .attr("stroke", "#000").attr("stroke-width", 1.1);

    // regression line over the data range
    let ext = d3.extent(pts, d => d[0]);
    let a = intercepts[i], b = slopes[i];
    inner.append("path").datum(ext.map(v => [v, a + b * v]))
        .attr("d", line).attr("fill", "none")
        .attr("stroke", "#000").attr("stroke-width", 2.8);

    // annotation
    let t1 = inner.append("text").attr("x", 6).attr("y", 22).attr("font-size", 16.3).attr("fill", "#000");
    t1.append("tspan").attr("font-style", "italic").text("R");
    t1.append("tspan").attr("dy", -6).attr("font-size", 11).text("2");
    t1.append("tspan").attr("dy", 6).text(" " + r2Labels[i]);
    let t2 = inner.append("text").attr("x", 6).attr("y", 36).attr("font-size", 16.3).attr("fill", "#000");
    t2.append("tspan").attr("font-style", "italic").text("y");
    t2.append("tspan").text(" = " + eqLabels[i] + " ");
    t2.append("tspan").attr("font-style", "italic").text("x");

    // border
    g.append("rect").attr("width", pw).attr("height", ph)
        .attr("fill", "none").attr("stroke", "#555").attr("stroke-width", 1);

    // axes
    let ax = g.append("g").attr("transform", "translate(0," + ph + ")")
        .call(d3.axisBottom(x).tickValues(xv).tickFormat((d, j) => xTicks[i][j]).tickSize(3).tickPadding(2));
    let ay = g.append("g")
        .call(d3.axisLeft(y).tickValues(yv).tickFormat((d, j) => yTicks[i][j]).tickSize(3).tickPadding(2));
    [ax, ay].forEach(a => {
        a.select(".domain").remove();
        a.selectAll(".tick line").attr("stroke", "#333");
        a.selectAll(".tick text").attr("fill", "#4d4d4d").attr("font-size", 12.5)
            .attr("font-family", "Liberation Sans, Arial, sans-serif");
    });

    // strips
    let labels = [sensors[i], products[i], windows[col % 2]];
    labels.forEach((lab, k) => {
        let sy = -76 + k * 25.3;
        g.append("rect").attr("x", 0).attr("y", sy).attr("width", pw).attr("height", 25)
            .attr("fill", "#d9d9d9").attr("stroke", "#444").attr("stroke-width", 1);
        g.append("text").attr("x", pw / 2).attr("y", sy + 17)
            .attr("text-anchor", "middle").attr("font-size", 13).attr("fill", "#1a1a1a")
            .text(lab);
    });
});

// axis titles
let yt = svg.append("text")
    .attr("transform", "translate(18,582) rotate(-90)")
    .attr("text-anchor", "middle").attr("font-size", 14.5).attr("fill", "#000");
yt.append("tspan").text("Satellite-derived absorption (m");
yt.append("tspan").attr("dy", -6).attr("font-size", 10).text("−1");
yt.append("tspan").attr("dy", 6).text(")");

let xt = svg.append("text")
    .attr("x", 515).attr("y", 1200)
    .attr("text-anchor", "middle").attr("font-size", 14.5).attr("fill", "#000");
xt.append("tspan").attr("font-style", "italic").text("in situ");
xt.append("tspan").text(" measured absorption (m");
xt.append("tspan").attr("dy", -6).attr("font-size", 10).text("−1");
xt.append("tspan").attr("dy", 6).text(")");

// colour bar legend
let grad = defs.append("linearGradient").attr("id", "plasma");
d3.range(0, 1.0001, 0.05).forEach(t => {
    grad.append("stop").attr("offset", t).attr("stop-color", d3.interpolatePlasma(t));
});
let lx = d3.scaleLinear().domain(distanceExtent).range([504, 635]);
let barTop = 1233, barH = 26;
svg.append("rect").attr("x", 504).attr("y", barTop).attr("width", 131).attr("height", barH)
    .attr("fill", "url(#plasma)");
distanceTicks.forEach(v => {
    svg.append("line").attr("x1", lx(v)).attr("x2", lx(v)).attr("y1", barTop).attr("y2", barTop + 5)
        .attr("stroke", "#fff").attr("stroke-width", 1);
    svg.append("line").attr("x1", lx(v)).attr("x2", lx(v)).attr("y1", barTop + barH - 5).attr("y2", barTop + barH)
        .attr("stroke", "#fff").attr("stroke-width", 1);
});
let lax = svg.append("g").attr("transform", "translate(0," + (barTop + barH) + ")")
    .call(d3.axisBottom(lx).tickValues(distanceTicks).tickSize(0).tickPadding(5));
lax.select(".domain").remove();
lax.selectAll(".tick text").attr("fill", "#4d4d4d").attr("font-size", 12)
    .attr("font-family", "Liberation Sans, Arial, sans-serif");
svg.append("text").attr("x", 496).attr("y", 1262).attr("text-anchor", "end")
    .attr("font-size", 14.5).attr("fill", "#000").text("Distance (km)");
</script>
</body>
</html>
